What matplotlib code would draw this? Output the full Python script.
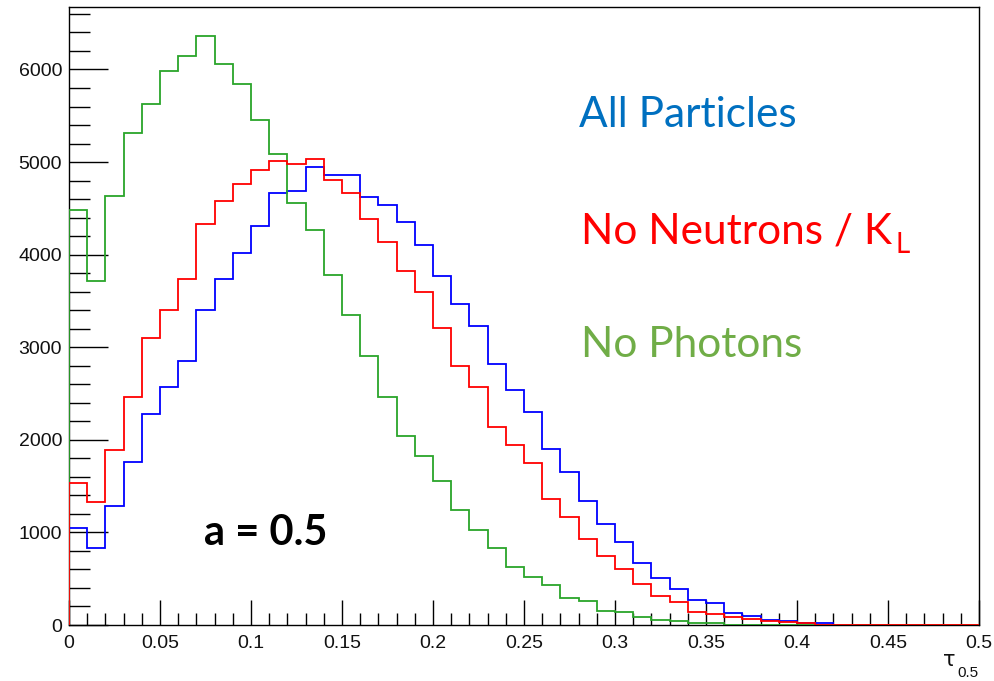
import numpy as np
import matplotlib
matplotlib.use("Agg")
import matplotlib.pyplot as plt
from matplotlib.ticker import MultipleLocator

# Histogram binning of tau_0.5 (50 bins from 0 to 0.5)
bin_edges = np.linspace(0.0, 0.5, 51)

# Counts per bin
all_particles = [1045, 829, 1286, 1762, 2278, 2570, 2854, 3400, 3737, 4018,
                 4314, 4670, 4685, 4950, 4861, 4861, 4627, 4541, 4349, 4101,
                 3773, 3470, 3225, 2818, 2541, 2306, 1903, 1657, 1341, 1095,
                 901, 674, 505, 390, 265, 241, 133, 97, 54, 43,
                 25, 25, 0, 0, 0, 0, 0, 0, 0, 0]
no_neutrons = [1535, 1326, 1885, 2468, 3095, 3398, 3737, 4332, 4576, 4760,
               4911, 5015, 4982, 5034, 4803, 4667, 4386, 4133, 3820, 3592,
               3205, 2800, 2572, 2137, 1946, 1751, 1359, 1168, 926, 746,
               609, 443, 317, 252, 144, 119, 83, 61, 47, 32,
               18, 0, 0, 0, 0, 0, 0, 0, 0, 0]
no_photons = [4486, 3719, 4630, 5316, 5632, 5982, 6144, 6357, 6061, 5845,
              5459, 5088, 4560, 4263, 3784, 3351, 2905, 2468, 2046, 1830,
              1560, 1242, 1027, 836, 630, 522, 432, 288, 259, 151,
              137, 90, 55, 45, 25, 25, 0, 0, 0, 0,
              0, 0, 0, 0, 0, 0, 0, 0, 0, 0]

y_major = [0, 1000, 2000, 3000, 4000, 5000, 6000]
x_major = [0, 0.05, 0.1, 0.15, 0.2, 0.25, 0.3, 0.35, 0.4, 0.45, 0.5]
x_labels = ["0", "0.05", "0.1", "0.15", "0.2", "0.25", "0.3", "0.35", "0.4", "0.45", "0.5"]

W, H = 994, 681
fig = plt.figure(figsize=(W / 100, H / 100), dpi=100)
ax = fig.add_axes([69 / W, 1 - 625 / H, (979 - 69) / W, (625 - 7) / H])


def fpos(px, py):
    """Pixel position (from top-left) to figure fraction."""
    return px / W, 1 - py / H


ax.stairs(all_particles, bin_edges, color="#0000FF", lw=1.3, zorder=3)
ax.stairs(no_photons, bin_edges, color="#2AA52A", lw=1.3, zorder=3)
ax.stairs(no_neutrons, bin_edges, color="#FF0000", lw=1.3, zorder=3)

ax.set_xlim(0, 0.5)
ax.set_ylim(0, 6675)

ax.set_xticks(x_major)
ax.set_xticklabels(x_labels)
ax.set_yticks(y_major)
ax.xaxis.set_minor_locator(MultipleLocator(0.01))
ax.yaxis.set_minor_locator(MultipleLocator(200))

for lab in ax.get_xticklabels() + ax.get_yticklabels():
    lab.set_fontfamily("Liberation Sans")
    lab.set_fontsize(14)
    lab.set_color("#111111")

ax.tick_params(axis="both", which="both", direction="in", top=False, right=False,
               width=1.0, color="black")
ax.tick_params(axis="x", which="major", length=18, pad=7)
ax.tick_params(axis="x", which="minor", length=9)
ax.tick_params(axis="y", which="major", length=28, pad=5)
ax.tick_params(axis="y", which="minor", length=15)
for sp in ax.spines.values():
    sp.set_linewidth(1.0)
    sp.set_color("black")

# axis title at the right end below the axis
fig.text(*fpos(956, 666), "τ", family="DejaVu Sans", size=15,
         ha="right", va="baseline", color="#111111")
fig.text(*fpos(978, 677), "0.5", family="Liberation Sans", size=11,
         ha="right", va="baseline", color="#111111")

# series annotations
fig.text(*fpos(579, 127), "All Particles", family="Lato", size=30.5,
         color="#0070C0", ha="left", va="baseline")
kl = fig.text(*fpos(581, 243), "No Neutrons / K", family="Lato", size=30.5,
              color="#FF0000", ha="left", va="baseline")
fig.text(*fpos(581, 357), "No Photons", family="Lato", size=30.5,
         color="#70AD47", ha="left", va="baseline")
fig.text(*fpos(204, 545), "a = 0.5", family="Lato", size=30, weight="bold",
         color="black", ha="left", va="baseline")

# subscript L placed right after the K
fig.canvas.draw()
bb = kl.get_window_extent()
fig.text(bb.x1 / W + 3 / W, 1 - 253 / H, "L", family="Lato", size=20,
         color="#FF0000", ha="left", va="baseline")

fig.savefig("out.png", dpi=100)
